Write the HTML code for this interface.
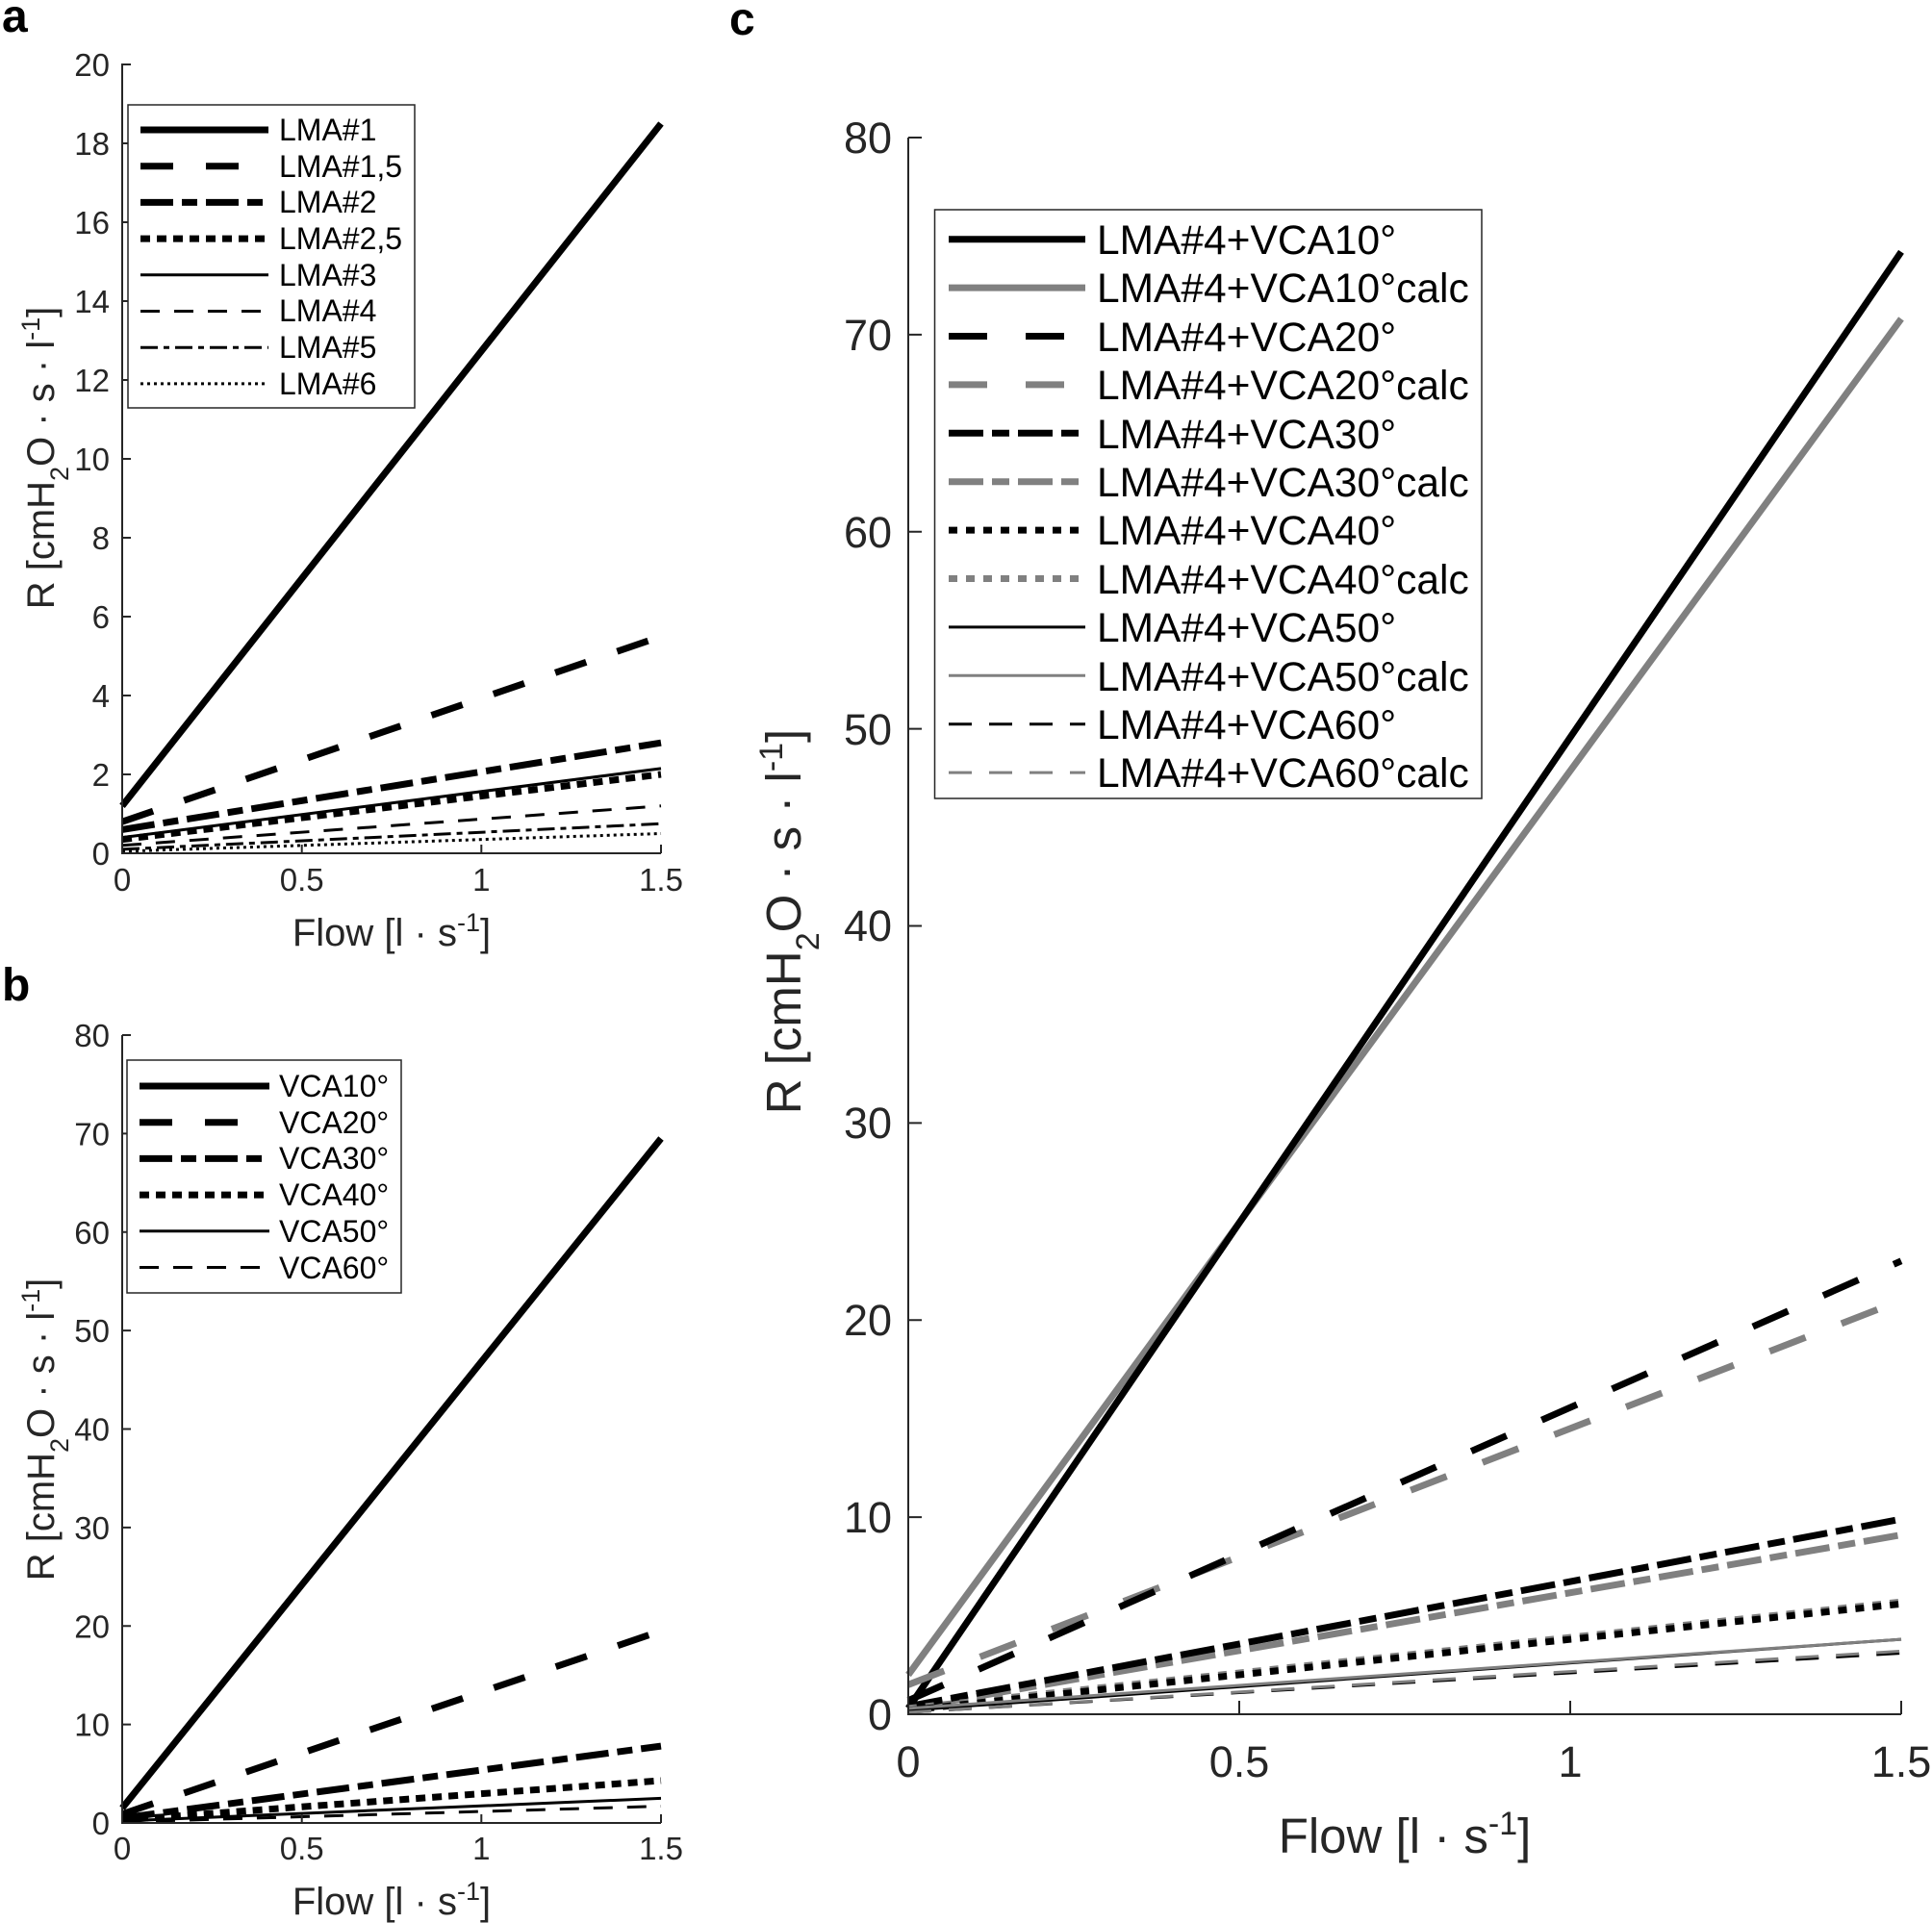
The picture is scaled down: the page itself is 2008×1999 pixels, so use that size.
<!DOCTYPE html>
<html><head><meta charset="utf-8"><style>
html,body{margin:0;padding:0;background:#fff}
svg{display:block;font-family:"Liberation Sans",Arial,sans-serif}
</style></head><body>
<svg width="2008" height="1999" viewBox="0 0 2008 1999" xmlns="http://www.w3.org/2000/svg">
<rect width="2008" height="1999" fill="#fff"/>
<text x="2" y="33" font-size="48" font-weight="bold" fill="#000">a</text>
<text x="2" y="1040" font-size="48" font-weight="bold" fill="#000">b</text>
<text x="758" y="36" font-size="48" font-weight="bold" fill="#000">c</text>

<!-- ============ PANEL A ============ -->
<g stroke-linecap="butt" fill="none" stroke="#000">
<line x1="127" y1="837.8" x2="687" y2="128.5" stroke-width="7"/>
<line x1="127" y1="854.2" x2="687" y2="661.5" stroke-width="7" stroke-dasharray="34,34"/>
<line x1="127" y1="862.4" x2="687" y2="772.2" stroke-width="7" stroke-dasharray="34,9,16,9"/>
<line x1="127" y1="872.6" x2="687" y2="805" stroke-width="7" stroke-dasharray="10,7"/>
<line x1="127" y1="870.6" x2="687" y2="798.9" stroke-width="3"/>
<line x1="127" y1="878.8" x2="687" y2="837.8" stroke-width="3" stroke-dasharray="20,15"/>
<line x1="127" y1="882.9" x2="687" y2="856.3" stroke-width="3" stroke-dasharray="18,6,6,6"/>
<line x1="127" y1="885" x2="687" y2="866.5" stroke-width="3" stroke-dasharray="3,4"/>
</g>
<g stroke="#262626" stroke-width="2" fill="none">
<path d="M127,66 V887 H687"/>
<path d="M127,887h9M127,805h9M127,723h9M127,641h9M127,559h9M127,477h9M127,395h9M127,313h9M127,231h9M127,149h9M127,67h9"/>
<path d="M313.7,887v-9M500.3,887v-9M687,887v-9"/>
</g>
<g fill="#262626" font-size="33" text-anchor="end">
<text x="114" y="899">0</text><text x="114" y="817">2</text><text x="114" y="735">4</text><text x="114" y="653">6</text><text x="114" y="571">8</text><text x="114" y="489">10</text><text x="114" y="407">12</text><text x="114" y="325">14</text><text x="114" y="243">16</text><text x="114" y="161">18</text><text x="114" y="79">20</text>
</g>
<g fill="#262626" font-size="33" text-anchor="middle">
<text x="127" y="926">0</text><text x="313.7" y="926">0.5</text><text x="500.3" y="926">1</text><text x="687" y="926">1.5</text>
<text x="407" y="983" font-size="40">Flow [l · s<tspan baseline-shift="super" font-size="27">-1</tspan>]</text>
<text transform="translate(56,476) rotate(-90)" font-size="40">R [cmH<tspan baseline-shift="sub" font-size="27">2</tspan>O · s · l<tspan baseline-shift="super" font-size="27">-1</tspan>]</text>
</g>
<rect x="133" y="109" width="298" height="315" fill="#fff" stroke="#262626" stroke-width="1.5"/>
<g stroke="#000" fill="none">
<line x1="146" y1="135" x2="279" y2="135" stroke-width="7"/>
<line x1="146" y1="172.7" x2="279" y2="172.7" stroke-width="7" stroke-dasharray="34,34"/>
<line x1="146" y1="210.4" x2="279" y2="210.4" stroke-width="7" stroke-dasharray="34,9,16,9"/>
<line x1="146" y1="248.1" x2="279" y2="248.1" stroke-width="7" stroke-dasharray="10,7"/>
<line x1="146" y1="285.8" x2="279" y2="285.8" stroke-width="3"/>
<line x1="146" y1="323.5" x2="279" y2="323.5" stroke-width="3" stroke-dasharray="20,15"/>
<line x1="146" y1="361.2" x2="279" y2="361.2" stroke-width="3" stroke-dasharray="18,6,6,6"/>
<line x1="146" y1="398.9" x2="279" y2="398.9" stroke-width="3" stroke-dasharray="3,4"/>
</g>
<g fill="#000" font-size="32">
<text x="290" y="146">LMA#1</text><text x="290" y="184">LMA#1,5</text><text x="290" y="221">LMA#2</text><text x="290" y="259">LMA#2,5</text><text x="290" y="297">LMA#3</text><text x="290" y="334">LMA#4</text><text x="290" y="372">LMA#5</text><text x="290" y="410">LMA#6</text>
</g>

<!-- ============ PANEL B ============ -->
<g fill="none" stroke="#000">
<line x1="127" y1="1879.6" x2="687" y2="1183.5" stroke-width="7"/>
<line x1="127" y1="1885.8" x2="687" y2="1695.4" stroke-width="7" stroke-dasharray="34,34"/>
<line x1="127" y1="1889.9" x2="687" y2="1815.1" stroke-width="7" stroke-dasharray="34,9,16,9"/>
<line x1="127" y1="1891.9" x2="687" y2="1851" stroke-width="7" stroke-dasharray="10,7"/>
<line x1="127" y1="1893" x2="687" y2="1869.4" stroke-width="3"/>
<line x1="127" y1="1894" x2="687" y2="1877.6" stroke-width="3" stroke-dasharray="20,15"/>
</g>
<g stroke="#262626" stroke-width="2" fill="none">
<path d="M127,1076 V1895 H687"/>
<path d="M127,1895h9M127,1792.6h9M127,1690.3h9M127,1587.9h9M127,1485.5h9M127,1383.1h9M127,1280.8h9M127,1178.4h9M127,1076h9"/>
<path d="M313.7,1895v-9M500.3,1895v-9M687,1895v-9"/>
</g>
<g fill="#262626" font-size="33" text-anchor="end">
<text x="114" y="1907">0</text><text x="114" y="1804.6">10</text><text x="114" y="1702.3">20</text><text x="114" y="1599.9">30</text><text x="114" y="1497.5">40</text><text x="114" y="1395.1">50</text><text x="114" y="1292.8">60</text><text x="114" y="1190.4">70</text><text x="114" y="1088">80</text>
</g>
<g fill="#262626" font-size="33" text-anchor="middle">
<text x="127" y="1933">0</text><text x="313.7" y="1933">0.5</text><text x="500.3" y="1933">1</text><text x="687" y="1933">1.5</text>
<text x="407" y="1990" font-size="40">Flow [l · s<tspan baseline-shift="super" font-size="27">-1</tspan>]</text>
<text transform="translate(56,1486) rotate(-90)" font-size="40">R [cmH<tspan baseline-shift="sub" font-size="27">2</tspan>O · s · l<tspan baseline-shift="super" font-size="27">-1</tspan>]</text>
</g>
<rect x="132" y="1102" width="285" height="242" fill="#fff" stroke="#262626" stroke-width="1.5"/>
<g stroke="#000" fill="none">
<line x1="145" y1="1129" x2="280" y2="1129" stroke-width="7"/>
<line x1="145" y1="1166.7" x2="280" y2="1166.7" stroke-width="7" stroke-dasharray="34,34"/>
<line x1="145" y1="1204.4" x2="280" y2="1204.4" stroke-width="7" stroke-dasharray="34,9,16,9"/>
<line x1="145" y1="1242.1" x2="280" y2="1242.1" stroke-width="7" stroke-dasharray="10,7"/>
<line x1="145" y1="1279.8" x2="280" y2="1279.8" stroke-width="3"/>
<line x1="145" y1="1317.5" x2="280" y2="1317.5" stroke-width="3" stroke-dasharray="20,15"/>
</g>
<g fill="#000" font-size="32">
<text x="290" y="1140">VCA10°</text><text x="290" y="1178">VCA20°</text><text x="290" y="1215">VCA30°</text><text x="290" y="1253">VCA40°</text><text x="290" y="1291">VCA50°</text><text x="290" y="1329">VCA60°</text>
</g>

<!-- ============ PANEL C ============ -->
<g fill="none">
<line x1="944" y1="1741" x2="1976" y2="331.4" stroke="#808080" stroke-width="7"/>
<line x1="944" y1="1775.9" x2="1976" y2="261.8" stroke="#000" stroke-width="7"/>
<line x1="944" y1="1751.3" x2="1976" y2="1351.8" stroke="#808080" stroke-width="7" stroke-dasharray="40,40"/>
<line x1="944" y1="1767.7" x2="1976" y2="1310.8" stroke="#000" stroke-width="7" stroke-dasharray="40,40"/>
<line x1="944" y1="1775.9" x2="1976" y2="1595.6" stroke="#808080" stroke-width="7" stroke-dasharray="36,9,18,9"/>
<line x1="944" y1="1773.8" x2="1976" y2="1579.2" stroke="#000" stroke-width="7" stroke-dasharray="36,9,18,9"/>
<line x1="944" y1="1775.9" x2="1976" y2="1665.2" stroke="#808080" stroke-width="7" stroke-dasharray="9,9"/>
<line x1="944" y1="1777.9" x2="1976" y2="1667.3" stroke="#000" stroke-width="7" stroke-dasharray="9,9"/>
<line x1="944" y1="1777.9" x2="1976" y2="1704.1" stroke="#000" stroke-width="3"/>
<line x1="944" y1="1775.9" x2="1976" y2="1704.1" stroke="#808080" stroke-width="3"/>
<line x1="944" y1="1780" x2="1976" y2="1718.5" stroke="#000" stroke-width="3" stroke-dasharray="24,18"/>
<line x1="944" y1="1780" x2="1976" y2="1716.4" stroke="#808080" stroke-width="3" stroke-dasharray="24,18"/>
</g>
<g stroke="#262626" stroke-width="2" fill="none">
<path d="M944,143 V1782 H1976"/>
<path d="M944,1782h14M944,1577.1h14M944,1372.3h14M944,1167.4h14M944,962.5h14M944,757.6h14M944,552.8h14M944,347.9h14M944,143h14"/>
<path d="M1288,1782v-14M1632,1782v-14M1976,1782v-14"/>
</g>
<g fill="#262626" font-size="45" text-anchor="end">
<text x="927" y="1798">0</text><text x="927" y="1593">10</text><text x="927" y="1388">20</text><text x="927" y="1183">30</text><text x="927" y="978">40</text><text x="927" y="774">50</text><text x="927" y="569">60</text><text x="927" y="364">70</text><text x="927" y="159">80</text>
</g>
<g fill="#262626" font-size="45" text-anchor="middle">
<text x="944" y="1847">0</text><text x="1288" y="1847">0.5</text><text x="1632" y="1847">1</text><text x="1976" y="1847">1.5</text>
<text x="1460" y="1926" font-size="51">Flow [l · s<tspan baseline-shift="super" font-size="34">-1</tspan>]</text>
<text transform="translate(832,958) rotate(-90)" font-size="51">R [cmH<tspan baseline-shift="sub" font-size="34">2</tspan>O · s · l<tspan baseline-shift="super" font-size="34">-1</tspan>]</text>
</g>
<rect x="971.5" y="218" width="568.5" height="612" fill="#fff" stroke="#262626" stroke-width="1.5"/>
<g fill="none">
<line x1="986" y1="248.7" x2="1128" y2="248.7" stroke="#000" stroke-width="7"/>
<line x1="986" y1="299.1" x2="1128" y2="299.1" stroke="#808080" stroke-width="7"/>
<line x1="986" y1="349.5" x2="1128" y2="349.5" stroke="#000" stroke-width="7" stroke-dasharray="40,40"/>
<line x1="986" y1="399.9" x2="1128" y2="399.9" stroke="#808080" stroke-width="7" stroke-dasharray="40,40"/>
<line x1="986" y1="450.3" x2="1128" y2="450.3" stroke="#000" stroke-width="7" stroke-dasharray="36,9,18,9"/>
<line x1="986" y1="500.7" x2="1128" y2="500.7" stroke="#808080" stroke-width="7" stroke-dasharray="36,9,18,9"/>
<line x1="986" y1="551.1" x2="1128" y2="551.1" stroke="#000" stroke-width="7" stroke-dasharray="9,9"/>
<line x1="986" y1="601.5" x2="1128" y2="601.5" stroke="#808080" stroke-width="7" stroke-dasharray="9,9"/>
<line x1="986" y1="651.9" x2="1128" y2="651.9" stroke="#000" stroke-width="3"/>
<line x1="986" y1="702.3" x2="1128" y2="702.3" stroke="#808080" stroke-width="3"/>
<line x1="986" y1="752.7" x2="1128" y2="752.7" stroke="#000" stroke-width="3" stroke-dasharray="24,18"/>
<line x1="986" y1="803.1" x2="1128" y2="803.1" stroke="#808080" stroke-width="3" stroke-dasharray="24,18"/>
</g>
<g fill="#000" font-size="42.5">
<text x="1140" y="264">LMA#4+VCA10°</text>
<text x="1140" y="314">LMA#4+VCA10°calc</text>
<text x="1140" y="365">LMA#4+VCA20°</text>
<text x="1140" y="415">LMA#4+VCA20°calc</text>
<text x="1140" y="466">LMA#4+VCA30°</text>
<text x="1140" y="516">LMA#4+VCA30°calc</text>
<text x="1140" y="566">LMA#4+VCA40°</text>
<text x="1140" y="617">LMA#4+VCA40°calc</text>
<text x="1140" y="667">LMA#4+VCA50°</text>
<text x="1140" y="718">LMA#4+VCA50°calc</text>
<text x="1140" y="768">LMA#4+VCA60°</text>
<text x="1140" y="818">LMA#4+VCA60°calc</text>
</g>
</svg>
</body></html>
